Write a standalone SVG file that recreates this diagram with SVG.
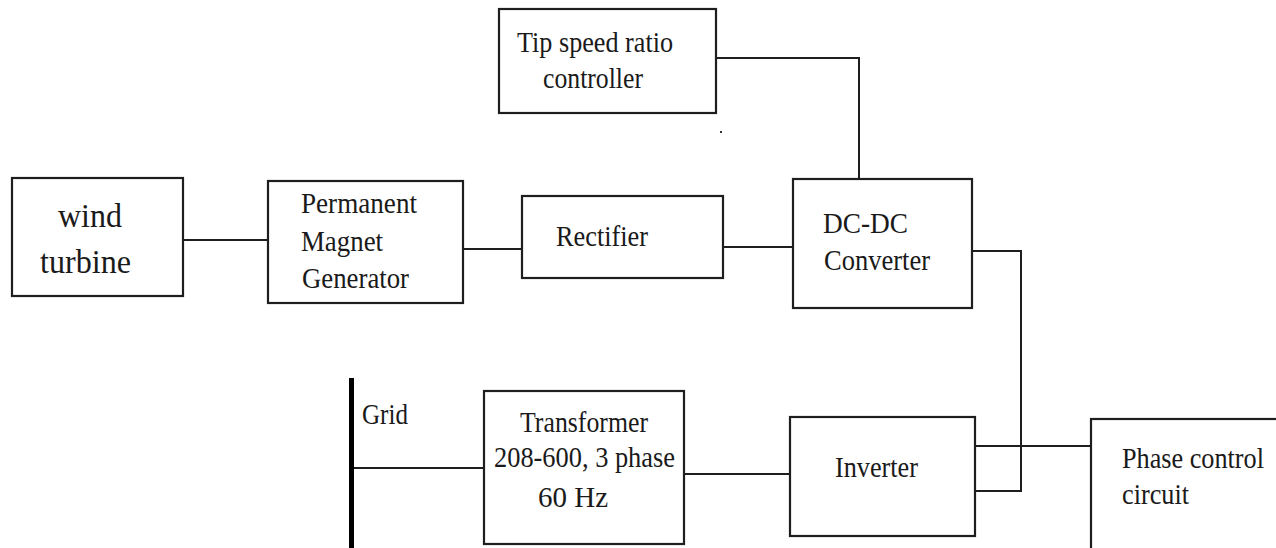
<svg xmlns="http://www.w3.org/2000/svg" width="1276" height="548" viewBox="0 0 1276 548">
<style>
.box{fill:#fff;stroke:#1e1e1e;stroke-width:2.2}
.wire{fill:none;stroke:#1e1e1e;stroke-width:2}
.t{font-size:30px;fill:#1a1a1a}
.big{font-size:34px}
</style>
<rect width="1276" height="548" fill="#fff"/>
<g id="connectors">
<path class="wire" d="M183 240H268"/>
<path class="wire" d="M463 249H522"/>
<path class="wire" d="M723 247H793"/>
<path class="wire" d="M716 58H859V179"/>
<path class="wire" d="M972 251H1021V491H975"/>
<path class="wire" d="M975 446H1091"/>
<path class="wire" d="M351 468H484"/>
<path class="wire" d="M684 474H790"/>
</g>
<g font-family="Liberation Serif, Times New Roman, serif">
<g id="wind-turbine">
<rect class="box" x="12" y="178" width="171" height="118"/>
<text class="t big" x="58" y="227" textLength="64" lengthAdjust="spacingAndGlyphs">wind</text>
<text class="t big" x="40" y="273" textLength="91" lengthAdjust="spacingAndGlyphs">turbine</text>
</g>
<g id="pmg">
<rect class="box" x="268" y="181" width="195" height="122"/>
<text class="t" x="301" y="213" textLength="116" lengthAdjust="spacingAndGlyphs">Permanent</text>
<text class="t" x="301" y="251" textLength="82" lengthAdjust="spacingAndGlyphs">Magnet</text>
<text class="t" x="302" y="288" textLength="107" lengthAdjust="spacingAndGlyphs">Generator</text>
</g>
<g id="rectifier">
<rect class="box" x="522" y="196" width="201" height="82"/>
<text class="t" x="556" y="246" textLength="92" lengthAdjust="spacingAndGlyphs">Rectifier</text>
</g>
<g id="tsr-controller">
<rect class="box" x="499" y="9" width="217" height="104"/>
<text class="t" x="517" y="52" textLength="156" lengthAdjust="spacingAndGlyphs">Tip speed ratio</text>
<text class="t" x="543" y="88" textLength="100" lengthAdjust="spacingAndGlyphs">controller</text>
</g>
<rect x="720" y="131" width="2" height="2" fill="#333"/>
<g id="dcdc">
<rect class="box" x="793" y="179" width="179" height="129"/>
<text class="t" x="823" y="233" textLength="85" lengthAdjust="spacingAndGlyphs">DC-DC</text>
<text class="t" x="824" y="270" textLength="106" lengthAdjust="spacingAndGlyphs">Converter</text>
</g>
<g id="grid">
<rect x="349" y="378" width="5" height="170" fill="#000"/>
<text class="t" x="362" y="424" textLength="46" lengthAdjust="spacingAndGlyphs">Grid</text>
</g>
<g id="transformer">
<rect class="box" x="484" y="391" width="200" height="153"/>
<text class="t" x="520" y="432" textLength="128" lengthAdjust="spacingAndGlyphs">Transformer</text>
<text class="t" x="494" y="467" textLength="181" lengthAdjust="spacingAndGlyphs">208-600, 3 phase</text>
<text class="t" x="538" y="507" textLength="70" lengthAdjust="spacingAndGlyphs">60 Hz</text>
</g>
<g id="inverter">
<rect class="box" x="790" y="417" width="185" height="119"/>
<text class="t" x="835" y="477" textLength="83" lengthAdjust="spacingAndGlyphs">Inverter</text>
</g>
<g id="phase-control">
<rect class="box" x="1091" y="419" width="200" height="150"/>
<text class="t" x="1122" y="468" textLength="142" lengthAdjust="spacingAndGlyphs">Phase control</text>
<text class="t" x="1122" y="504" textLength="67" lengthAdjust="spacingAndGlyphs">circuit</text>
</g>
</g>
</svg>
